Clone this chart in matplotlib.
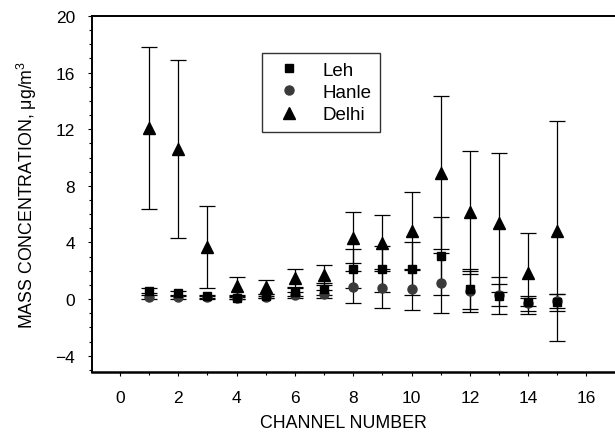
import matplotlib
matplotlib.use('Agg')
import matplotlib.pyplot as plt
from matplotlib.ticker import MultipleLocator

plt.rcParams['font.family'] = ['Liberation Sans', 'DejaVu Sans']
plt.rcParams['mathtext.fontset'] = 'custom'
plt.rcParams['mathtext.rm'] = 'Liberation Sans'
plt.rcParams['mathtext.it'] = 'Liberation Sans:italic'

channels = list(range(1, 16))

leh = [0.6, 0.4, 0.2, 0.1, 0.2, 0.5, 0.72, 2.16, 2.12, 2.16, 3.06, 0.7, 0.25, -0.22, -0.24]
leh_err = [0.18, 0.2, 0.1, 0.1, 0.15, 0.3, 0.45, 1.37, 1.65, 1.89, 2.75, 1.4, 1.3, 0.28, 0.6]

hanle = [0.15, 0.15, 0.12, 0.08, 0.15, 0.3, 0.35, 0.87, 0.75, 0.7, 1.13, 0.55, 0.3, -0.3, -0.15]
hanle_err = [0.12, 0.12, 0.1, 0.1, 0.1, 0.2, 0.3, 1.15, 1.41, 1.45, 2.12, 1.45, 0.8, 0.55, 0.5]

delhi = [12.07, 10.6, 3.69, 0.93, 0.85, 1.48, 1.7, 4.35, 3.95, 4.82, 8.94, 6.12, 5.41, 1.83, 4.82]
delhi_err = [5.72, 6.3, 2.92, 0.65, 0.5, 0.62, 0.7, 1.81, 1.98, 2.73, 5.41, 4.35, 4.94, 2.85, 7.78]

xticks = [0, 2, 4, 6, 8, 10, 12, 14, 16]
yticks = [-4, 0, 4, 8, 12, 16, 20]

fig = plt.figure(figsize=(6.15, 4.35), dpi=100)
ax = fig.add_axes([92/615, 1-373/435, 523/615, 356/435])

eb_kw = dict(fmt='none', ecolor='black', elinewidth=0.9, capsize=5.5, capthick=0.9)
ax.errorbar(channels, hanle, yerr=hanle_err, zorder=2, **eb_kw)
ax.errorbar(channels, leh, yerr=leh_err, zorder=3, **eb_kw)
ax.errorbar(channels, delhi, yerr=delhi_err, zorder=4, **eb_kw)

h_hanle, = ax.plot(channels, hanle, 'o', color='#3a3a3a', markersize=6.5, linestyle='none', label='Hanle', zorder=5)
h_leh, = ax.plot(channels, leh, 's', color='black', markersize=6, linestyle='none', label='Leh', zorder=6)
h_delhi, = ax.plot(channels, delhi, '^', color='black', markersize=9, linestyle='none', label='Delhi', zorder=7)

ax.set_xlim(-0.96, 16.98)
ax.set_ylim(-5.15, 20)
ax.set_xticks(xticks)
ax.set_yticks(yticks)
ax.xaxis.set_minor_locator(MultipleLocator(1))
ax.yaxis.set_minor_locator(MultipleLocator(1))
ax.tick_params(which='both', direction='out', top=False, right=False, width=0.8, labelsize=12.5)
ax.tick_params(which='major', length=3)
ax.tick_params(which='minor', length=2)
ax.tick_params(axis='x', which='major', pad=10)
ax.tick_params(axis='y', which='major', pad=9)

for s in ['left', 'top']:
    ax.spines[s].set_linewidth(1.4)
ax.spines['bottom'].set_linewidth(1.8)
ax.spines['right'].set_visible(False)

ax.set_xlabel('CHANNEL NUMBER', fontsize=12.8)
ax.set_ylabel('MASS CONCENTRATION, μg/m$^3$', fontsize=12.8, labelpad=12)
ax.xaxis.set_label_coords((343.5-92)/523, -0.118)

leg = ax.legend(handles=[h_leh, h_hanle, h_delhi], loc='upper left',
                bbox_to_anchor=((262-92)/523, 1-(54-17)/356), borderaxespad=0,
                fontsize=13.5, frameon=True, fancybox=False, edgecolor='black',
                handlelength=2.0, handletextpad=0.8, borderpad=0.45, labelspacing=0.28,
                numpoints=1)
leg.get_frame().set_linewidth(1.0)

fig.savefig('out.png', dpi=100)
